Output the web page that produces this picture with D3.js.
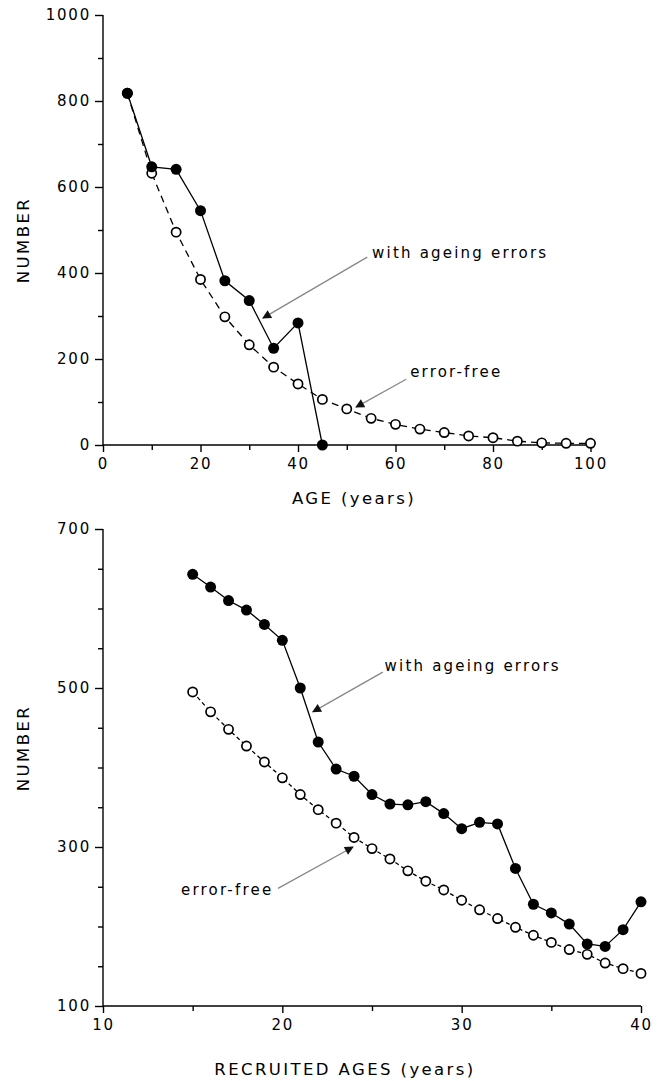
<html>
<head>
    <script src="https://d3js.org/d3.v7.min.js"></script>
    <style>
        body {
            margin: 0;
            background-color: white;
            font-family: "DejaVu Sans", Arial, sans-serif;
        }
        .axis text {
            font-size: 15px;
            letter-spacing: 1.8px;
            font-family: "DejaVu Sans", sans-serif;
            fill: black;
        }
        .axis path, .axis line {
            stroke: black;
            stroke-width: 1.4;
        }
        .title {
            font-size: 16.5px;
            letter-spacing: 2.4px;
        }
        .note {
            font-size: 15px;
            letter-spacing: 2.2px;
        }
    </style>
</head>
<body>
    <div id="chart"></div>
    <script>
        // top panel: numbers by age
        var topAges = [5, 10, 15, 20, 25, 30, 35, 40, 45, 50, 55, 60, 65, 70, 75, 80, 85, 90, 95, 100];
        var topErrorFree = [818, 632, 495, 385, 298, 233, 181, 142, 106, 84, 62, 48, 37, 29, 21, 17, 9, 5, 4, 4];
        var topAgeingAges = [5, 10, 15, 20, 25, 30, 35, 40, 45];
        var topAgeing = [818, 647, 641, 545, 382, 336, 225, 284, 0];
        var topXTicks = [0, 20, 40, 60, 80, 100];
        var topXMinor = [10, 30, 50, 70, 90];
        var topYTicks = [0, 200, 400, 600, 800, 1000];
        var topYMinor = [100, 300, 500, 700, 900];

        // bottom panel: numbers by recruited age
        var botAges = [15, 16, 17, 18, 19, 20, 21, 22, 23, 24, 25, 26, 27, 28, 29, 30, 31, 32, 33, 34, 35, 36, 37, 38, 39, 40];
        var botAgeing = [643, 627, 610, 598, 580, 560, 500, 432, 398, 389, 366, 354, 353, 357, 342, 323, 331, 329, 273, 228, 217, 203, 178, 175, 196, 231];
        var botErrorFree = [495, 470, 448, 427, 407, 387, 366, 347, 330, 312, 298, 285, 270, 257, 246, 233, 221, 210, 199, 189, 180, 171, 165, 154, 147, 141];
        var botXTicks = [10, 20, 30, 40];
        var botXMinor = [15, 25, 35];
        var botYTicks = [100, 300, 500, 700];
        var botYMinor = [150, 200, 250, 350, 400, 450, 550, 600, 650];

        // annotations in data units: label anchor, arrow tail, arrow head
        var topNotes = [
            { text: "with ageing errors", tx: 55.2, ty: 446, ax: 54.2, ay: 437, hx: 32.8, hy: 295 },
            { text: "error-free", tx: 63, ty: 170, ax: 62.2, ay: 153, hx: 51.9, hy: 88 }
        ];
        var botNotes = [
            { text: "with ageing errors", tx: 25.7, ty: 528, ax: 25.6, ay: 520, hx: 21.7, hy: 470 },
            { text: "error-free", tx: 14.35, ty: 246, ax: 19.76, ay: 248, hx: 23.94, hy: 300 }
        ];

        var svg = d3.select("#chart").append("svg")
            .attr("width", 667)
            .attr("height", 1081);

        svg.append("defs").append("marker")
            .attr("id", "head")
            .attr("viewBox", "0 0 10 10")
            .attr("refX", 9).attr("refY", 5)
            .attr("markerWidth", 14).attr("markerHeight", 9)
            .attr("markerUnits", "userSpaceOnUse")
            .attr("orient", "auto")
            .append("path")
            .attr("d", "M0,0 L10,5 L0,10 z")
            .attr("fill", "#111");

        function panel(o) {
            var x = d3.scaleLinear().domain(o.xDomain).range(o.xRange);
            var y = d3.scaleLinear().domain(o.yDomain).range(o.yRange);
            var g = svg.append("g");

            // axes: major with labels, minor without
            g.append("g").attr("class", "axis")
                .attr("transform", "translate(0," + o.yRange[0] + ")")
                .call(d3.axisBottom(x).tickValues(o.xTicks).tickSize(7).tickPadding(6).tickFormat(d3.format("d")))
                .select(".domain").attr("d", "M" + o.xRange[0] + ",0H" + o.xRange[1]);
            g.append("g").attr("class", "axis")
                .attr("transform", "translate(0," + o.yRange[0] + ")")
                .call(d3.axisBottom(x).tickValues(o.xMinor).tickSize(5).tickFormat(""))
                .select(".domain").remove();
            g.append("g").attr("class", "axis")
                .attr("transform", "translate(" + o.xRange[0] + ",0)")
                .call(d3.axisLeft(y).tickValues(o.yTicks).tickSize(8).tickPadding(4).tickFormat(d3.format("d")))
                .select(".domain").attr("d", "M0," + o.yRange[0] + "V" + o.yRange[1]);
            g.append("g").attr("class", "axis")
                .attr("transform", "translate(" + o.xRange[0] + ",0)")
                .call(d3.axisLeft(y).tickValues(o.yMinor).tickSize(5).tickFormat(""))
                .select(".domain").remove();

            g.append("text").attr("class", "title")
                .attr("x", o.xTitle[0]).attr("y", o.xTitle[1])
                .attr("text-anchor", "middle")
                .text(o.xLabel);
            g.append("text").attr("class", "title")
                .attr("transform", "translate(" + o.yTitle[0] + "," + o.yTitle[1] + ") rotate(-90)")
                .attr("text-anchor", "middle")
                .text("NUMBER");

            var line = d3.line()
                .x(function (d) { return x(d[0]); })
                .y(function (d) { return y(d[1]); });

            var free = d3.zip(o.freeX, o.free);
            var ageing = d3.zip(o.ageX, o.ageing);

            g.append("path").datum(free)
                .attr("d", line)
                .attr("fill", "none").attr("stroke", "black")
                .attr("stroke-width", 1.3)
                .attr("stroke-dasharray", o.dash);
            g.append("path").datum(ageing)
                .attr("d", line)
                .attr("fill", "none").attr("stroke", "black")
                .attr("stroke-width", 1.3);

            g.selectAll("circle.free").data(free).enter()
                .append("circle").attr("class", "free")
                .attr("cx", function (d) { return x(d[0]); })
                .attr("cy", function (d) { return y(d[1]); })
                .attr("r", 4.6)
                .attr("fill", "white").attr("stroke", "black").attr("stroke-width", 1.7);
            g.selectAll("circle.age").data(ageing).enter()
                .append("circle").attr("class", "age")
                .attr("cx", function (d) { return x(d[0]); })
                .attr("cy", function (d) { return y(d[1]); })
                .attr("r", o.r)
                .attr("fill", "black");

            o.notes.forEach(function (n) {
                g.append("line")
                    .attr("x1", x(n.ax)).attr("y1", y(n.ay))
                    .attr("x2", x(n.hx)).attr("y2", y(n.hy))
                    .attr("stroke", "#888").attr("stroke-width", 1.3)
                    .attr("marker-end", "url(#head)");
                g.append("text").attr("class", "note")
                    .attr("x", x(n.tx)).attr("y", y(n.ty))
                    .attr("dy", "0.35em")
                    .text(n.text);
            });
        }

        panel({
            xDomain: [0, 100], xRange: [103, 590.5],
            yDomain: [0, 1000], yRange: [445, 15],
            xTicks: topXTicks, xMinor: topXMinor, yTicks: topYTicks, yMinor: topYMinor,
            freeX: topAges, free: topErrorFree, ageX: topAgeingAges, ageing: topAgeing,
            xLabel: "AGE (years)", xTitle: [354, 504], yTitle: [29, 240],
            dash: "7,5", r: 5.5, notes: topNotes
        });

        panel({
            xDomain: [10, 40], xRange: [103, 641],
            yDomain: [100, 700], yRange: [1006, 529],
            xTicks: botXTicks, xMinor: botXMinor, yTicks: botYTicks, yMinor: botYMinor,
            freeX: botAges, free: botErrorFree, ageX: botAges, ageing: botAgeing,
            xLabel: "RECRUITED AGES (years)", xTitle: [345, 1075], yTitle: [29, 748],
            dash: "4,3", r: 5.5, notes: botNotes
        });
    </script>
</body>
</html>
